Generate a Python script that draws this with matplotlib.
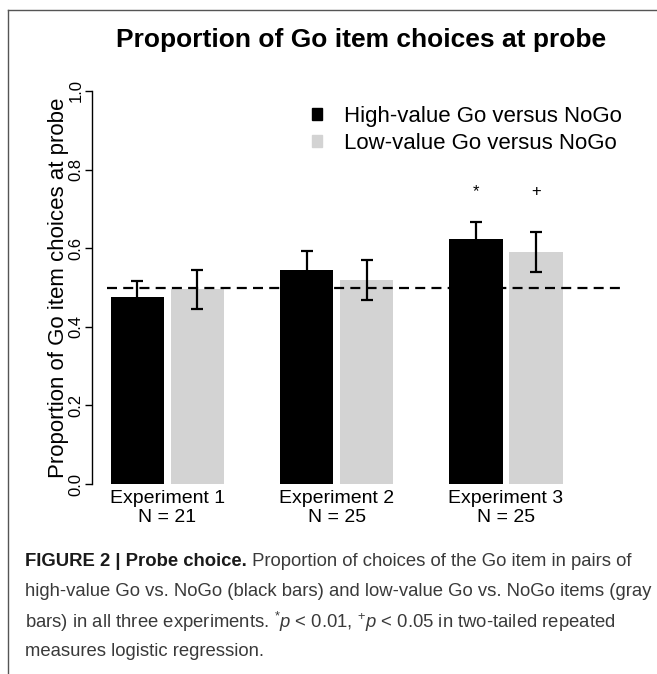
import matplotlib
matplotlib.use('Agg')
import matplotlib.pyplot as plt
from matplotlib.patches import Patch
from matplotlib.lines import Line2D
import numpy as np

# data
experiments = ['Experiment 1', 'Experiment 2', 'Experiment 3']
n_subjects = [21, 25, 25]
series = ['High-value Go versus NoGo', 'Low-value Go versus NoGo']
high_value = [0.475, 0.545, 0.624]
high_err = [0.041, 0.047, 0.043]
low_value = [0.495, 0.519, 0.591]
low_err = [0.050, 0.050, 0.051]
high_sig = ['', '', '*']
low_sig = ['', '', '+']
chance = 0.5
yticks = [0.0, 0.2, 0.4, 0.6, 0.8, 1.0]

caption = [
    ('FIGURE 2 | Probe choice.', ' Proportion of choices of the Go item in pairs of'),
    ('', 'high-value Go vs. NoGo (black bars) and low-value Go vs. NoGo items (gray'),
    ('', 'bars) in all three experiments. $^{*}p$ < 0.01, $^{+}p$ < 0.05 in two-tailed repeated'),
    ('', 'measures logistic regression.'),
]

plt.rcParams['font.family'] = ['Liberation Sans', 'DejaVu Sans']
plt.rcParams['mathtext.fontset'] = 'custom'
plt.rcParams['mathtext.rm'] = 'Liberation Sans'
plt.rcParams['mathtext.it'] = 'Liberation Sans:italic'

W, H = 657, 674
fig = plt.figure(figsize=(W / 100, H / 100), dpi=100)
ax = fig.add_axes([92 / W, (H - 484) / H, 528 / W, 393 / H])

x = np.arange(len(experiments))
w = 0.316
off = 0.177
black = '#000000'
grey = '#d3d3d3'
ax.bar(x - off, high_value, w, color=black, zorder=1)
ax.bar(x + off, low_value, w, color=grey, zorder=1)
ax.axhline(chance, xmin=15 / 528, xmax=1, color='black', lw=1.6, ls=(0, (4.5, 2.8)), zorder=2)
ax.errorbar(x - off, high_value, yerr=high_err, fmt='none', ecolor='black', elinewidth=1.6,
            capsize=4.5, capthick=1.6, zorder=3)
ax.errorbar(x + off, low_value, yerr=low_err, fmt='none', ecolor='black', elinewidth=1.6,
            capsize=4.5, capthick=1.6, zorder=3)

for xi, s in zip(x - off, high_sig):
    ax.text(xi, 0.745, s, ha='center', va='center', fontsize=12)
for xi, s in zip(x + off, low_sig):
    ax.text(xi, 0.745, s, ha='center', va='center', fontsize=12)

ax.set_xlim(-0.445, 2.673)
ax.set_ylim(0, 1)
for sp in ['top', 'right', 'bottom']:
    ax.spines[sp].set_visible(False)
ax.spines['left'].set_bounds(0, 1)
ax.spines['left'].set_linewidth(1.0)
ax.set_yticks(yticks)
ax.set_yticklabels(['%.1f' % t for t in yticks], rotation=90, va='center', fontsize=12)
ax.tick_params(axis='y', length=5, width=1.0, pad=1)
ax.set_xticks(x)
ax.set_xticklabels(['%s\nN = %d' % (e, n) for e, n in zip(experiments, n_subjects)],
                   fontsize=14, linespacing=1.2)
ax.tick_params(axis='x', length=0, pad=4)
ax.set_ylabel('Proportion of Go item choices at probe', fontsize=16, labelpad=0)

handles = [Patch(color=black), Patch(color=grey)]
ax.legend(handles, series, loc='center left', bbox_to_anchor=((312 - 92) / 528, (484 - 130) / 393),
          frameon=False, fontsize=16, borderpad=0, borderaxespad=0,
          handlelength=0.45, handleheight=0.45, handletextpad=1.0, labelspacing=0.3)

fig.text(361 / W, 1 - 47 / H, 'Proportion of Go item choices at probe', ha='center', va='baseline',
         fontsize=19, fontweight='bold')

# frame around the figure panel
fig.add_artist(Line2D([8 / W, 1], [1 - 10 / H, 1 - 10 / H], transform=fig.transFigure, color='#555555', lw=1))
fig.add_artist(Line2D([8 / W, 8 / W], [0, 1 - 10 / H], transform=fig.transFigure, color='#555555', lw=1))

# caption with bold lead-in
renderer = fig.canvas.get_renderer()
ys = [562, 592, 622, 652]
for (bold, rest), yp in zip(caption, ys):
    xp = 25 / W
    if bold:
        t = fig.text(xp, 1 - yp / H, bold, ha='left', va='center', fontsize=13.3,
                     fontweight='bold', color='#1a1a1a')
        bb = t.get_window_extent(renderer)
        xp = bb.x1 / W
    fig.text(xp, 1 - yp / H, rest, ha='left', va='center', fontsize=13.3, color='#3a3a3a')

fig.savefig('out.png', dpi=100)
